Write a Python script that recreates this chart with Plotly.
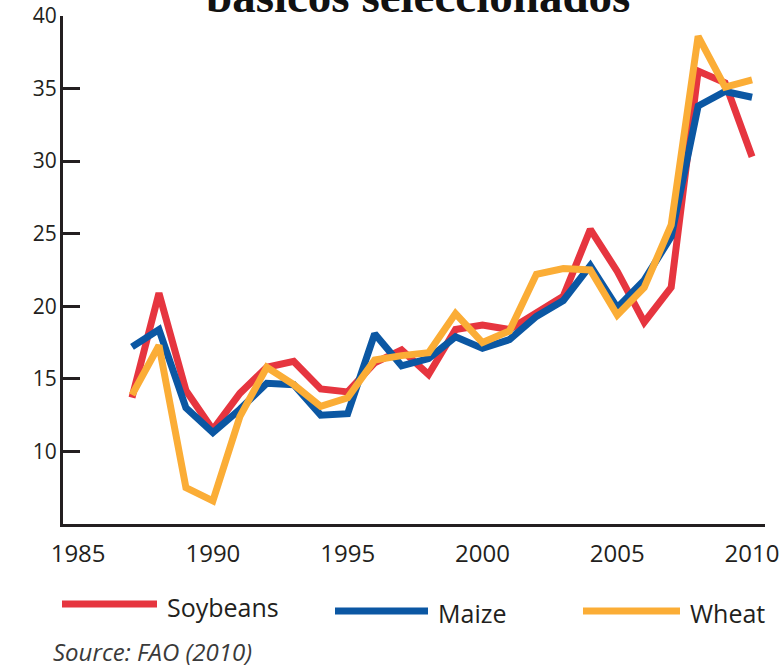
import plotly.graph_objects as go

# ---- data ----
years = list(range(1987, 2011))

soybeans = [13.7, 20.9, 14.2, 11.5, 14.0, 15.8, 16.2, 14.3, 14.1, 16.1, 17.0, 15.3,
            18.4, 18.7, 18.4, 19.6, 20.7, 25.3, 22.4, 18.9, 21.3, 36.2, 35.4, 30.3]
maize = [17.2, 18.4, 13.0, 11.3, 12.9, 14.7, 14.6, 12.5, 12.6, 18.1, 15.9, 16.4,
         17.9, 17.1, 17.7, 19.3, 20.4, 22.8, 19.9, 21.8, 24.8, 33.8, 34.8, 34.4]
wheat = [13.9, 17.3, 7.5, 6.6, 12.4, 15.8, 14.6, 13.1, 13.7, 16.3, 16.6, 16.8,
         19.5, 17.5, 18.3, 22.2, 22.6, 22.5, 19.4, 21.3, 25.6, 38.6, 35.1, 35.6]

x_ticks = [1985, 1990, 1995, 2000, 2005, 2010]
y_ticks = [10, 15, 20, 25, 30, 35, 40]

RED = "#e6353f"
BLUE = "#0b57a3"
YELLOW = "#fbad36"
INK = "#231f20"

W, H = 784, 666
L, R, T, B = 63, 19, 16, 142
PW, PH = W - L - R, H - T - B


def px(x):
    return (x - L) / PW


def py(y):
    return 1 - (y - T) / PH


fig = go.Figure()
for name, vals, col in [("Soybeans", soybeans, RED), ("Maize", maize, BLUE), ("Wheat", wheat, YELLOW)]:
    fig.add_trace(go.Scatter(x=years, y=vals, mode="lines", name=name,
                             line=dict(color=col, width=7), showlegend=False))

# hand-made legend below the plot
legend = [("Soybeans", RED, 62, 157, 604, 165, 607),
          ("Maize", BLUE, 335, 428, 611, 436, 613),
          ("Wheat", YELLOW, 583, 680, 611, 688, 613)]
for name, col, x0, x1, ly, tx, ty in legend:
    fig.add_shape(type="line", xref="paper", yref="paper",
                  x0=px(x0), x1=px(x1), y0=py(ly), y1=py(ly),
                  line=dict(color=col, width=7))
    fig.add_annotation(text=name, xref="paper", yref="paper", x=px(tx), y=py(ty),
                       xanchor="left", yanchor="middle", showarrow=False,
                       font=dict(family="Open Sans", size=25, color=INK))

fig.add_annotation(text="<i>Source: FAO (2010)</i>", xref="paper", yref="paper",
                   x=px(51), y=py(651), xanchor="left", yanchor="middle", showarrow=False,
                   font=dict(family="Open Sans", size=24, color="#3a3a3a"))

# title, cut off at the top edge as in the original
fig.add_annotation(text="<b>básicos seleccionados</b>", xref="paper", yref="paper",
                   x=px(418), y=py(24), xanchor="center", yanchor="bottom", showarrow=False,
                   font=dict(family="Liberation Serif", size=47, color="#111111"))

fig.update_xaxes(range=[1984.44, 2010.48], tickvals=x_ticks, showgrid=False, zeroline=False,
                 showline=True, linecolor=INK, linewidth=3, ticks="", automargin=False,
                 tickfont=dict(family="Open Sans", size=24, color=INK), ticklabelstandoff=6)
fig.update_yaxes(range=[5, 40], tickvals=y_ticks, showgrid=False, zeroline=False,
                 showline=True, linecolor=INK, linewidth=3, automargin=False,
                 ticks="inside", ticklen=17, tickwidth=3, tickcolor=INK,
                 tickfont=dict(family="Open Sans", size=21, color=INK), ticklabelstandoff=-1)

fig.update_layout(width=W, height=H, margin=dict(l=L, r=R, t=T, b=B),
                  plot_bgcolor="white", paper_bgcolor="white")

fig.write_html("out.html", config={"displayModeBar": False},
               post_script="document.body.style.margin='0';document.body.style.overflow='hidden';")
